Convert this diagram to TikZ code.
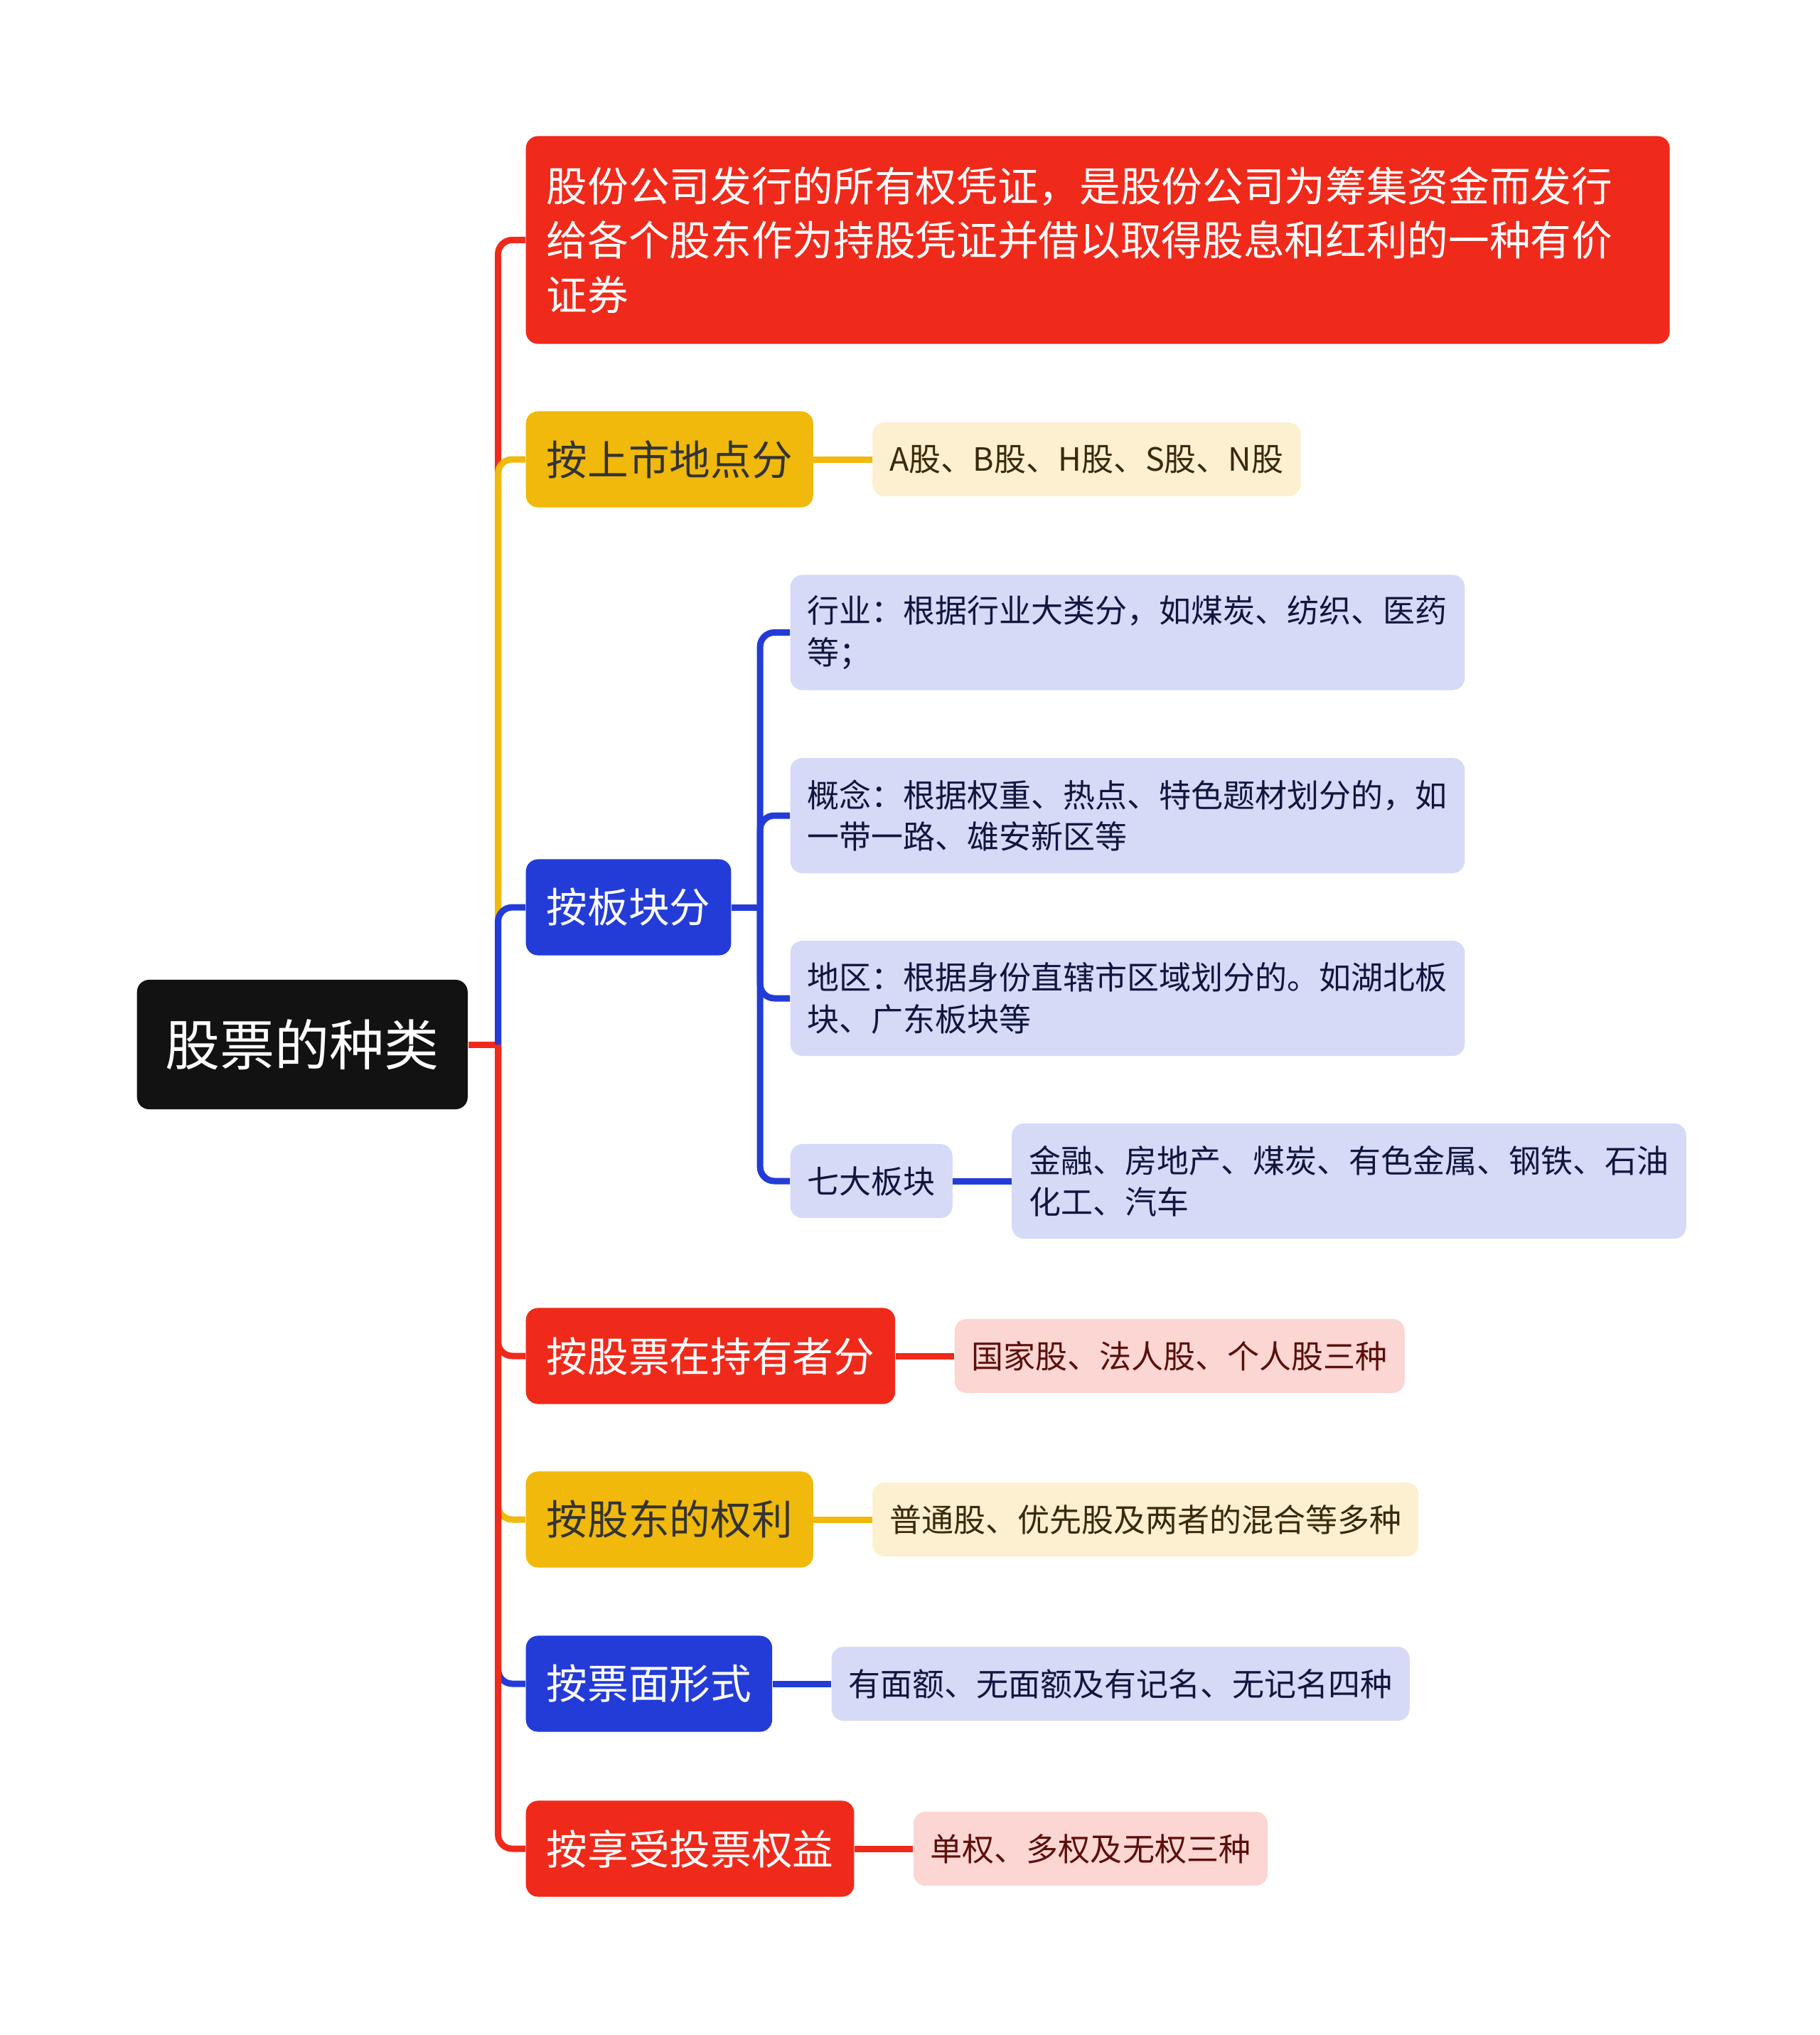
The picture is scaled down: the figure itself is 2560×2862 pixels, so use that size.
\documentclass[tikz,border=0pt]{standalone}
\usepackage{fontspec}
\setmainfont{Noto Sans CJK SC}
\usetikzlibrary{positioning}
\definecolor{zred}{RGB}{239,42,27}
\definecolor{zyel}{RGB}{240,185,11}
\definecolor{zblue}{RGB}{35,60,215}
\definecolor{lred}{RGB}{252,214,210}
\definecolor{lyel}{RGB}{252,240,208}
\definecolor{lblue}{RGB}{214,218,246}
\definecolor{tred}{RGB}{92,15,11}
\definecolor{tyel}{RGB}{59,42,10}
\definecolor{tblue}{RGB}{16,22,63}
\tikzset{
  box/.style={rounded corners=0.17cm, inner ysep=0pt, anchor=west},
  topic/.style={box, inner xsep=0.29cm, minimum height=1.35cm, font=\fontsize{16.4}{21.8}\selectfont},
  leaf/.style={box, inner xsep=0.24cm, minimum height=1.04cm, font=\fontsize{12.8}{16.6}\selectfont},
  tred/.style={topic, fill=zred, text=white},
  tyel/.style={topic, fill=zyel, text=black!80},
  tblue/.style={topic, fill=zblue, text=white},
  lred/.style={leaf, fill=lred, text=tred},
  lyel/.style={leaf, fill=lyel, text=tyel},
  lblue/.style={leaf, fill=lblue, text=tblue},
  twoline/.style={text width=9.0cm, align=left, minimum height=1.62cm},
  link/.style={line width=0.09cm, rounded corners=0.2cm},
}
\begin{document}
\begin{tikzpicture}[x=0.01cm,y=-0.01cm, node distance=0.82cm]
\useasboundingbox (0,0) rectangle (2560,2862);
\node[box, fill=black!93, text=white, inner xsep=0.4cm, minimum height=1.82cm,
  font=\fontsize{21.9}{26}\selectfont] (root) at (192,1469) {股票的种类};
\coordinate (tr) at ([xshift=0.42cm]root.east);

\node[tred, text width=15.5cm, align=left, minimum height=2.92cm] (def) at (739,337.5)
  {股份公司发行的所有权凭证，是股份公司为筹集资金而发行\\给各个股东作为持股凭证并借以取得股息和红利的一种有价\\证券};
\node[tyel] (place) at (739,646) {按上市地点分};
\node[lyel, right=of place] (placel) {A股、B股、H股、S股、N股};
\node[tblue] (sector) at (739,1276) {按板块分};
\node[tred] (holder) at (739,1907) {按股票在持有者分};
\node[lred, right=of holder] (holderl) {国家股、法人股、个人股三种};
\node[tyel] (right) at (739,2137) {按股东的权利};
\node[lyel, right=of right] (rightl) {普通股、优先股及两者的混合等多种};
\node[tblue] (face) at (739,2368) {按票面形式};
\node[lblue, right=of face] (facel) {有面额、无面额及有记名、无记名四种};
\node[tred] (vote) at (739,2600) {按享受投票权益};
\node[lred, right=of vote] (votel) {单权、多权及无权三种};

\node[lblue, twoline] (ind) at (1111,889.5) {行业：根据行业大类分，如煤炭、纺织、医药\\等；};
\node[lblue, twoline] (idea) at (1111,1147) {概念：根据权重、热点、特色题材划分的，如\\一带一路、雄安新区等};
\node[lblue, twoline] (area) at (1111,1404) {地区：根据身份直辖市区域划分的。如湖北板\\块、广东板块等};
\node[lblue] (seven) at (1111,1661) {七大板块};
\node[lblue, twoline, right=of seven] (sevenl) {金融、房地产、煤炭、有色金属、钢铁、石油\\化工、汽车};
\coordinate (st) at ([xshift=0.4cm]sector.east);

\draw[link, zred] (root.east) -- (tr);
\draw[link, zred] (tr) |- (def.west);
\draw[link, zyel] (tr) |- (place.west);
\draw[link, zblue] (tr) |- (sector.west);
\draw[link, zred] (tr) |- (holder.west);
\draw[link, zyel] (tr) |- (right.west);
\draw[link, zblue] (tr) |- (face.west);
\draw[link, zred] (tr) |- (vote.west);
\draw[link, zyel] (place) -- (placel);
\draw[link, zred] (holder) -- (holderl);
\draw[link, zyel] (right) -- (rightl);
\draw[link, zblue] (face) -- (facel);
\draw[link, zred] (vote) -- (votel);
\draw[link, zblue] (sector.east) -- (st);
\draw[link, zblue] (st) |- (ind.west);
\draw[link, zblue] (st) |- (idea.west);
\draw[link, zblue] (st) |- (area.west);
\draw[link, zblue] (st) |- (seven.west);
\draw[link, zblue] (seven) -- (sevenl);
\end{tikzpicture}
\end{document}
